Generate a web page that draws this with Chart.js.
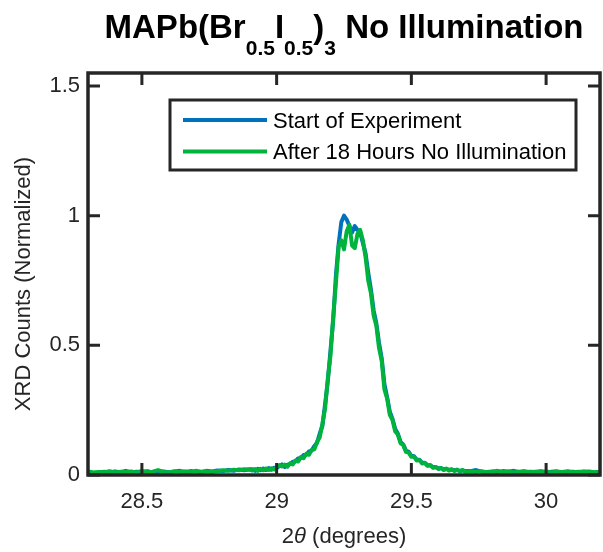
<!DOCTYPE html>
<html>
<head>
<meta charset="utf-8">
<title>MAPb(Br0.5I0.5)3 No Illumination</title>
<script src="https://cdn.jsdelivr.net/npm/chart.js@4.4.1/dist/chart.umd.min.js"></script>
<style>
  html, body { margin: 0; padding: 0; background: #fff; }
  #wrap { position: relative; width: 603px; height: 552px; }
  #title {
    position: absolute; left: 88px; top: 7px; width: 512px;
    text-align: center; white-space: nowrap; color: #000;
    font: bold 33px "Liberation Sans", Arial, sans-serif; line-height: 40px;
  }
  #title .sb { font-size: 21px; vertical-align: -17px; }
  canvas { position: absolute; left: 0; top: 0; }
</style>
</head>
<body>
<div id="wrap">
  <canvas id="xrd" width="603" height="552"></canvas>
  <div id="title">MAPb(Br<span class="sb">0.5</span>I<span class="sb">0.5</span>)<span class="sb">3</span> No Illumination</div>
</div>
<script>
// 2theta positions (degrees)
const twoTheta = [
  28.30, 28.32, 28.34, 28.36, 28.38, 28.40, 28.42, 28.44, 28.46, 28.48,
  28.50, 28.52, 28.54, 28.56, 28.58, 28.60, 28.62, 28.64, 28.66, 28.68,
  28.70, 28.72, 28.74, 28.76, 28.78, 28.80, 28.82, 28.84, 28.86, 28.88,
  28.90,
  28.91, 28.92, 28.93, 28.94, 28.95, 28.96, 28.97, 28.98, 28.99, 29.00,
  29.01, 29.02, 29.03, 29.04, 29.05, 29.06, 29.07, 29.08, 29.09, 29.10,
  29.11, 29.12, 29.13, 29.14, 29.15, 29.16, 29.17, 29.18, 29.19, 29.20,
  29.21, 29.22, 29.23, 29.24, 29.25, 29.26, 29.27, 29.28, 29.29, 29.30,
  29.31, 29.32, 29.33, 29.34, 29.35, 29.36, 29.37, 29.38, 29.39, 29.40,
  29.41, 29.42, 29.43, 29.44, 29.45, 29.46, 29.47, 29.48, 29.49, 29.50,
  29.51, 29.52, 29.53, 29.54, 29.55, 29.56, 29.57, 29.58, 29.59, 29.60,
  29.61, 29.62, 29.63, 29.64, 29.65, 29.66, 29.67, 29.68, 29.69, 29.70,
  29.72, 29.74, 29.76, 29.78, 29.80, 29.82, 29.84, 29.86, 29.88, 29.90,
  29.92, 29.94, 29.96, 29.98, 30.00, 30.02, 30.04, 30.06, 30.08, 30.10,
  30.12, 30.14, 30.16, 30.18, 30.20,
];

// normalized counts, start of experiment
const startCounts = [
  0.012, 0.008, 0.010, 0.013, 0.009, 0.014, 0.011, 0.016, 0.010, 0.013,
  0.012, 0.015, 0.010, 0.012, 0.014, 0.011, 0.013, 0.016, 0.012, 0.015,
  0.013, 0.011, 0.016, 0.014, 0.017, 0.015, 0.019, 0.016, 0.021, 0.018,
  0.022,
  0.022, 0.016, 0.024, 0.018, 0.025, 0.019, 0.027, 0.020, 0.028, 0.026,
  0.035, 0.041, 0.031, 0.040, 0.042, 0.051, 0.052, 0.064, 0.066, 0.077,
  0.078, 0.091, 0.094, 0.112, 0.124, 0.160, 0.190, 0.275, 0.362, 0.482,
  0.598, 0.770, 0.890, 0.975, 1.000, 0.985, 0.960, 0.935, 0.960, 0.945,
  0.935, 0.895, 0.855, 0.780, 0.715, 0.635, 0.585, 0.510, 0.450, 0.350,
  0.300, 0.244, 0.216, 0.178, 0.159, 0.128, 0.117, 0.094, 0.089, 0.074,
  0.072, 0.059, 0.059, 0.047, 0.047, 0.038, 0.038, 0.030, 0.031, 0.025,
  0.027, 0.022, 0.023, 0.020, 0.021, 0.018, 0.019, 0.016, 0.018, 0.015,
  0.015, 0.019, 0.013, 0.012, 0.014, 0.011, 0.015, 0.013, 0.016, 0.012,
  0.010, 0.013, 0.012, 0.015, 0.011, 0.013, 0.014, 0.010, 0.012, 0.013,
  0.011, 0.014, 0.012, 0.010, 0.013,
];

// normalized counts, after 18 hours without illumination
const darkCounts = [
  0.014, 0.010, 0.012, 0.011, 0.015, 0.010, 0.013, 0.012, 0.014, 0.009,
  0.016, 0.011, 0.013, 0.019, 0.012, 0.010, 0.015, 0.012, 0.014, 0.011,
  0.016, 0.013, 0.014, 0.012, 0.015, 0.018, 0.016, 0.020, 0.018, 0.022,
  0.020,
  0.017, 0.023, 0.016, 0.024, 0.018, 0.025, 0.019, 0.026, 0.021, 0.029,
  0.038, 0.033, 0.040, 0.032, 0.045, 0.041, 0.056, 0.052, 0.069, 0.065,
  0.082, 0.078, 0.097, 0.099, 0.128, 0.145, 0.198, 0.258, 0.372, 0.462,
  0.610, 0.740, 0.880, 0.905, 0.870, 0.940, 0.965, 0.885, 0.875, 0.930,
  0.945, 0.905, 0.840, 0.750, 0.700, 0.615, 0.575, 0.490, 0.440, 0.330,
  0.295, 0.232, 0.212, 0.168, 0.156, 0.122, 0.115, 0.089, 0.086, 0.070,
  0.070, 0.056, 0.058, 0.044, 0.046, 0.035, 0.038, 0.028, 0.031, 0.023,
  0.027, 0.019, 0.025, 0.017, 0.022, 0.015, 0.021, 0.014, 0.019, 0.013,
  0.014, 0.012, 0.015, 0.011, 0.013, 0.016, 0.012, 0.014, 0.010, 0.013,
  0.015, 0.011, 0.013, 0.012, 0.014, 0.010, 0.013, 0.012, 0.015, 0.011,
  0.013, 0.012, 0.014, 0.011, 0.012,
];

const seriesLabels = ['Start of Experiment', 'After 18 Hours No Illumination'];
const xTickValues = [28.5, 29, 29.5, 30];
const yTickValues = [0, 0.5, 1, 1.5];

const FONT = '"Liberation Sans", Arial, sans-serif';
const AXIS_COLOR = '#262626';
const TICK_LEN = 12;

// MATLAB style box with inward ticks on all four sides
const boxAxes = {
  id: 'boxAxes',
  afterDatasetsDraw(chart) {
    const { ctx, chartArea: a, scales: { x, y } } = chart;
    ctx.save();
    ctx.strokeStyle = AXIS_COLOR;
    ctx.lineWidth = 3;
    ctx.beginPath();
    xTickValues.forEach((v) => {
      const px = x.getPixelForValue(v);
      ctx.moveTo(px, a.bottom);
      ctx.lineTo(px, a.bottom - TICK_LEN);
      ctx.moveTo(px, a.top);
      ctx.lineTo(px, a.top + TICK_LEN);
    });
    yTickValues.forEach((v) => {
      const py = y.getPixelForValue(v);
      ctx.moveTo(a.left, py);
      ctx.lineTo(a.left + TICK_LEN, py);
      ctx.moveTo(a.right, py);
      ctx.lineTo(a.right - TICK_LEN, py);
    });
    ctx.stroke();
    ctx.lineWidth = 3.5;
    ctx.strokeRect(a.left, a.top, a.right - a.left, a.bottom - a.top);
    ctx.restore();
  },
};

// axis titles (italic theta on x, y title placed like the original)
const axisTitles = {
  id: 'axisTitles',
  afterDraw(chart) {
    const { ctx, chartArea: a } = chart;
    ctx.save();
    ctx.fillStyle = AXIS_COLOR;
    ctx.textBaseline = 'middle';
    ctx.textAlign = 'left';

    const parts = [
      { t: '2', f: `22px ${FONT}` },
      { t: 'θ', f: `italic 22px ${FONT}` },
      { t: ' (degrees)', f: `22px ${FONT}` },
    ];
    let total = 0;
    parts.forEach((p) => { ctx.font = p.f; p.w = ctx.measureText(p.t).width; total += p.w; });
    let cx = (a.left + a.right) / 2 - total / 2;
    parts.forEach((p) => { ctx.font = p.f; ctx.fillText(p.t, cx, 537); cx += p.w; });

    ctx.translate(24, (a.top + a.bottom) / 2 + 10);
    ctx.rotate(-Math.PI / 2);
    ctx.textAlign = 'center';
    ctx.font = `22px ${FONT}`;
    ctx.fillText('XRD Counts (Normalized)', 0, 0);
    ctx.restore();
  },
};

// boxed legend in the upper part of the axes
const boxLegend = {
  id: 'boxLegend',
  afterDraw(chart) {
    const { ctx, chartArea: a } = chart;
    const left = a.left + 82;
    const top = a.top + 27;
    const w = 406;
    const h = 70;
    ctx.save();
    ctx.fillStyle = '#fff';
    ctx.fillRect(left, top, w, h);
    ctx.strokeStyle = AXIS_COLOR;
    ctx.lineWidth = 3;
    ctx.strokeRect(left, top, w, h);
    ctx.font = `22px ${FONT}`;
    ctx.textBaseline = 'middle';
    ctx.textAlign = 'left';
    chart.data.datasets.forEach((ds, i) => {
      const rowY = top + 20 + i * 31.5;
      ctx.strokeStyle = ds.borderColor;
      ctx.lineWidth = 4;
      ctx.beginPath();
      ctx.moveTo(left + 13, rowY);
      ctx.lineTo(left + 97, rowY);
      ctx.stroke();
      ctx.fillStyle = '#000';
      ctx.fillText(ds.label, left + 103, rowY + 1.5);
    });
    ctx.restore();
  },
};

const toPoints = (values) => twoTheta.map((x, i) => ({ x, y: values[i] }));

new Chart(document.getElementById('xrd'), {
  type: 'line',
  data: {
    datasets: [
      {
        label: seriesLabels[0],
        data: toPoints(startCounts),
        borderColor: '#0072bd',
        order: 1,
      },
      {
        label: seriesLabels[1],
        data: toPoints(darkCounts),
        borderColor: '#00b33c',
        order: 0,
      },
    ],
  },
  options: {
    responsive: false,
    animation: false,
    devicePixelRatio: 1,
    layout: { padding: { top: 73, right: 3, left: 0, bottom: 0 } },
    elements: {
      point: { radius: 0 },
      line: { borderWidth: 4, tension: 0, borderJoinStyle: 'round' },
    },
    plugins: {
      legend: { display: false },
      tooltip: { enabled: false },
    },
    scales: {
      x: {
        type: 'linear',
        min: 28.3,
        max: 30.2,
        afterBuildTicks: (scale) => { scale.ticks = xTickValues.map((v) => ({ value: v })); },
        afterFit: (scale) => { scale.height = 77; },
        grid: { display: false, drawTicks: false },
        border: { display: false },
        ticks: {
          padding: 14,
          maxRotation: 0,
          color: AXIS_COLOR,
          font: { family: FONT, size: 22 },
          callback: (v) => String(v),
        },
      },
      y: {
        min: 0,
        max: 1.55,
        afterBuildTicks: (scale) => { scale.ticks = yTickValues.map((v) => ({ value: v })); },
        afterFit: (scale) => { scale.width = 88; },
        grid: { display: false, drawTicks: false },
        border: { display: false },
        ticks: {
          padding: 8,
          color: AXIS_COLOR,
          font: { family: FONT, size: 22 },
          callback: (v) => String(v),
        },
      },
    },
  },
  plugins: [boxAxes, axisTitles, boxLegend],
});
</script>
</body>
</html>
